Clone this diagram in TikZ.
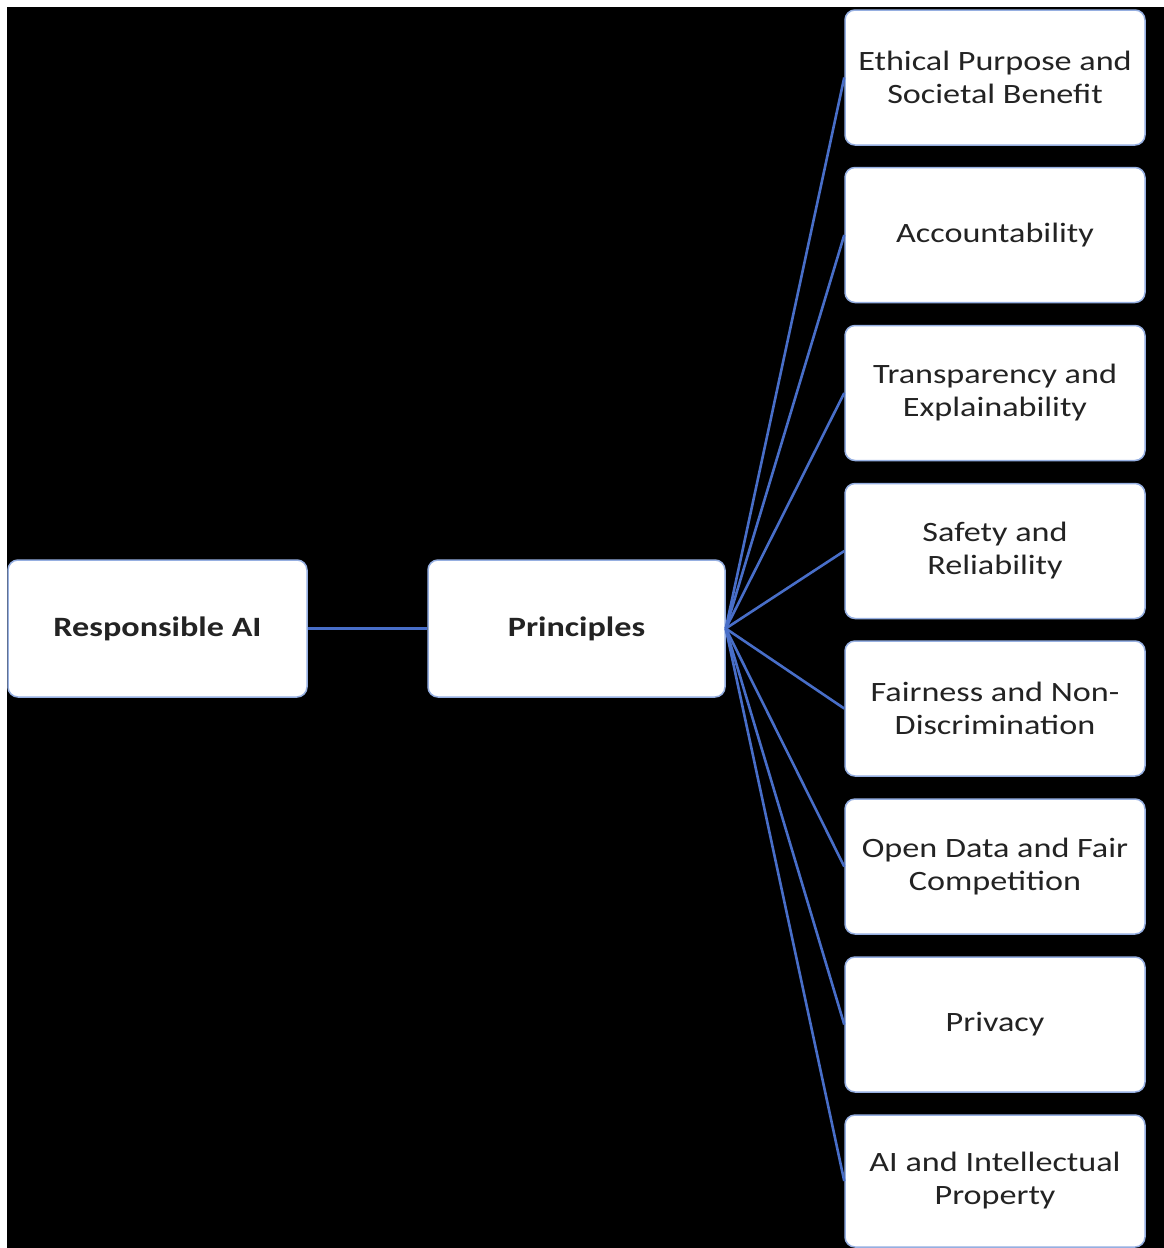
\documentclass[tikz,border=0pt]{standalone}
\usepackage{fontspec}
\setmainfont[FakeStretch=1.22]{Carlito}
\definecolor{lnblue}{RGB}{72,110,200}
\definecolor{bord}{RGB}{150,175,225}
\definecolor{txt}{RGB}{35,35,35}
\begin{document}
\begin{tikzpicture}[x=1pt,y=-1pt,
  box/.style={draw=bord, line width=1.5pt, fill=white, rounded corners=10pt,
    minimum width=298pt, minimum height=135pt, inner sep=0pt, align=center,
    text=txt, font=\fontsize{28}{33}\selectfont},
  boldbox/.style={box, font=\fontsize{28}{33}\selectfont\bfseries},
  link/.style={draw=lnblue, line width=2.6pt}]
\useasboundingbox (0,0) rectangle (1164,1248);
\fill[white] (0,0) rectangle (1164,1248);
\fill[black] (7,7) rectangle (1164,1248);

\node[boldbox, minimum width=299pt, minimum height=137pt] (rai) at (157.5,628.5) {Responsible AI};
\node[boldbox, minimum width=297pt, minimum height=137pt] (pr) at (576.5,628.5) {Principles};

\node[box, minimum width=300pt] (r1) at (995,77.5) {Ethical Purpose and\\Societal Benefit};
\node[box, minimum width=300pt] (r2) at (995,235) {Accountability};
\node[box, minimum width=300pt] (r3) at (995,393) {Transparency and\\Explainability};
\node[box, minimum width=300pt] (r4) at (995,551) {Safety and\\Reliability};
\node[box, minimum width=300pt] (r5) at (995,708.5) {Fairness and Non-\\Discrimination};
\node[box, minimum width=300pt] (r6) at (995,866.5) {Open Data and Fair\\Competition};
\node[box, minimum width=300pt] (r7) at (995,1024.5) {Privacy};
\node[box, minimum width=300pt, minimum height=132pt] (r8) at (995,1181) {AI and Intellectual\\Property};

\draw[link] (rai.east) -- (pr.west);
\foreach \i in {1,...,8} {
  \draw[link] (pr.east) -- (r\i.west);
}
\end{tikzpicture}
\end{document}
